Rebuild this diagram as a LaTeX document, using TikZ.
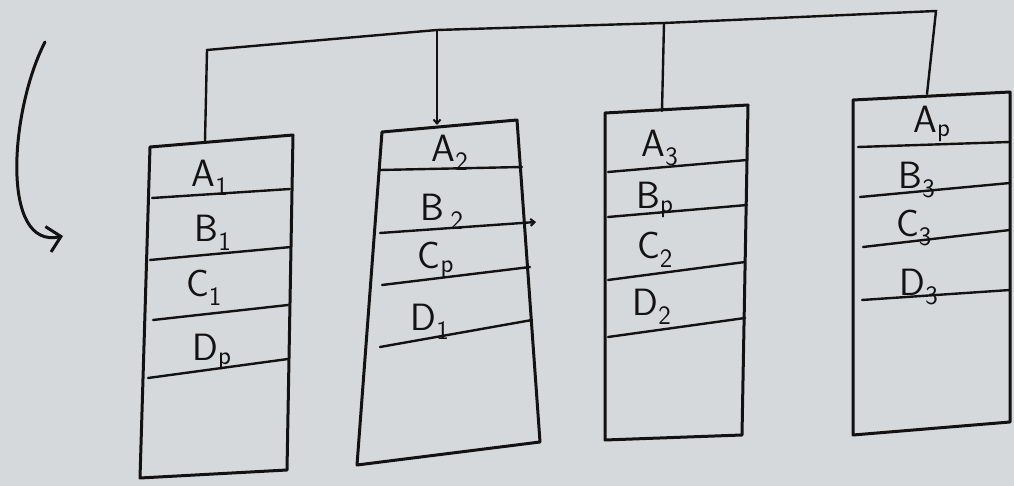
\documentclass[tikz,border=0pt]{standalone}
\usetikzlibrary{arrows.meta}
\definecolor{paper}{RGB}{214,217,219}
\definecolor{ink}{RGB}{18,18,18}
\begin{document}
\begin{tikzpicture}[x=1pt,y=-1pt,
  ink/.style={draw=ink,line width=3pt,line join=round,line cap=round},
  thin/.style={draw=ink,line width=2.4pt,line cap=round},
  lbl/.style={font=\sffamily\fontsize{38}{40}\selectfont,text=ink,inner sep=0pt}]
\fill[paper] (0,0) rectangle (1014,486);
\useasboundingbox (0,0) rectangle (1014,486);

% curved arrow
\coordinate (arrS) at (45,42);
\coordinate (arrE) at (63,236);
\draw[ink,-{Straight Barb[length=13pt,width=26pt,line width=3pt]}] (arrS) .. controls (10,110) and (0,250) .. (arrE);

% column 1
\coordinate (c1t) at (205,141);
\draw[ink] (150,147) -- (293,135) -- (287,470) -- (140,478) -- cycle;
\draw[thin] (152,198) -- (290,189);
\draw[thin] (150,260) -- (291,247);
\draw[thin] (153,320) -- (288,305);
\draw[thin] (148,378) -- (288,359);
\node[lbl] (a1) at (210,178) {A\textsubscript{1}};
\node[lbl] (b1) at (213,233) {B\textsubscript{1}};
\node[lbl] (c1) at (204,288) {C\textsubscript{1}};
\node[lbl] (d1) at (212,352) {D\textsubscript{p}};

% column 2
\coordinate (c2t) at (437,125);
\draw[ink] (382,132) -- (517,120) -- (540,442) -- (357,465) -- cycle;
\draw[thin] (380,170) -- (522,167);
\draw[thin,-{Straight Barb[length=4pt,width=7pt,line width=2pt]}] (380,233) -- (536,222);
\draw[thin] (382,285) -- (530,267);
\draw[thin] (380,347) -- (532,320);
\node[lbl] (a2) at (450,153) {A\textsubscript{2}};
\node[lbl] (b2) at (442,212) {B\,\textsubscript{2}};
\node[lbl] (c2) at (436,260) {C\textsubscript{p}};
\node[lbl] (d2) at (430,322) {D\textsubscript{1}};

% column 3
\coordinate (c3t) at (662,111);
\draw[ink] (605,113) -- (748,105) -- (742,435) -- (605,440) -- cycle;
\draw[thin] (608,172) -- (747,160);
\draw[thin] (608,217) -- (747,205);
\draw[thin] (608,280) -- (745,262);
\draw[thin] (608,337) -- (745,318);
\node[lbl] (a3) at (660,148) {A\textsubscript{3}};
\node[lbl] (b3) at (655,200) {B\textsubscript{p}};
\node[lbl] (c3) at (655,250) {C\textsubscript{2}};
\node[lbl] (d3) at (652,307) {D\textsubscript{2}};

% column 4
\coordinate (c4t) at (927,94);
\draw[ink] (853,100) -- (1010,92) -- (1010,422) -- (853,435) -- cycle;
\draw[thin] (858,147) -- (1010,142);
\draw[thin] (860,197) -- (1010,183);
\draw[thin] (863,247) -- (1010,230);
\draw[thin] (862,300) -- (1010,290);
\node[lbl] (a4) at (932,124) {A\textsubscript{p}};
\node[lbl] (b4) at (917,180) {B\textsubscript{3}};
\node[lbl] (c4) at (914,228) {C\textsubscript{3}};
\node[lbl] (d4) at (919,287) {D\textsubscript{3}};

% bus
\coordinate (bus1) at (207,50);
\coordinate (bus2) at (437,30);
\coordinate (bus3) at (664,23);
\coordinate (bus4) at (936,11);
\draw[thin] (c1t) -- (bus1) -- (bus2) -- (bus3) -- (bus4) -- (c4t);
\draw[thin,-{Straight Barb[length=4pt,width=7pt,line width=2pt]}] (bus2) -- (c2t);
\draw[thin] (bus3) -- (c3t);
\end{tikzpicture}
\end{document}
